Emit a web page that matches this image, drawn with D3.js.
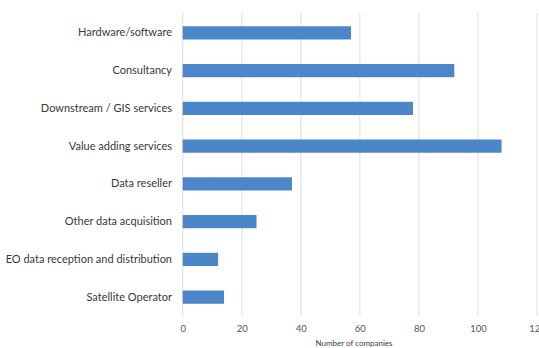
<!DOCTYPE html>
<html>
<head>
<meta charset="utf-8">
<script src="https://cdn.jsdelivr.net/npm/d3@7"></script>
<style>
  html, body { margin: 0; padding: 0; background: #ffffff; }
  svg { display: block; }
</style>
</head>
<body>
<svg id="chart" width="539" height="348"></svg>
<script>
// Company activity categories, top to bottom
const categories = [
  "Hardware/software",
  "Consultancy",
  "Downstream / GIS services",
  "Value adding services",
  "Data reseller",
  "Other data acquisition",
  "EO data reception and distribution",
  "Satellite Operator"
];
// Number of companies per category
const companies = [57, 92, 78, 108, 37, 25, 12, 14];
const xTicks = [0, 20, 40, 60, 80, 100, 120];
const xTitle = "Number of companies";

const data = categories.map((c, i) => ({ category: c, value: companies[i] }));

const svg = d3.select("#chart");
const margin = { top: 14, right: 2, bottom: 32, left: 182.7 };

const x = d3.scaleLinear()
  .domain([0, 120])
  .range([margin.left, 537]);

const y = d3.scaleBand()
  .domain(categories)
  .range([margin.top, 316])
  .paddingInner(0.65)
  .paddingOuter(0.325);

// vertical gridlines
svg.append("g")
  .selectAll("line")
  .data(xTicks)
  .join("line")
  .attr("x1", d => x(d)).attr("x2", d => x(d))
  .attr("y1", margin.top - 1).attr("y2", 316)
  .attr("stroke", "#e4e4e4")
  .attr("stroke-width", 1.2);

// bars
svg.append("g")
  .selectAll("rect")
  .data(data)
  .join("rect")
  .attr("x", x(0))
  .attr("y", d => y(d.category))
  .attr("width", d => x(d.value) - x(0))
  .attr("height", y.bandwidth())
  .attr("fill", "#4a86c8");

// category labels
const yAxis = d3.axisLeft(y).tickSize(0).tickPadding(10.7);
const gy = svg.append("g")
  .attr("transform", `translate(${margin.left},0)`)
  .call(yAxis);
gy.select(".domain").remove();
gy.selectAll("text")
  .attr("font-family", "Lato, 'Open Sans', sans-serif")
  .attr("font-size", 11)
  .attr("fill", "#3d3540");

// value axis labels
const xAxis = d3.axisBottom(x).tickValues(xTicks).tickSize(0).tickPadding(9);
const gx = svg.append("g")
  .attr("transform", `translate(0,316)`)
  .call(xAxis);
gx.select(".domain").remove();
gx.selectAll("text")
  .attr("font-family", "Lato, 'Open Sans', sans-serif")
  .attr("font-size", 9.5)
  .attr("fill", "#555555");

// axis title
svg.append("text")
  .attr("x", 354)
  .attr("y", 346)
  .attr("text-anchor", "middle")
  .attr("font-family", "Lato, 'Open Sans', sans-serif")
  .attr("font-size", 8)
  .attr("fill", "#404040")
  .text(xTitle);
</script>
</body>
</html>
